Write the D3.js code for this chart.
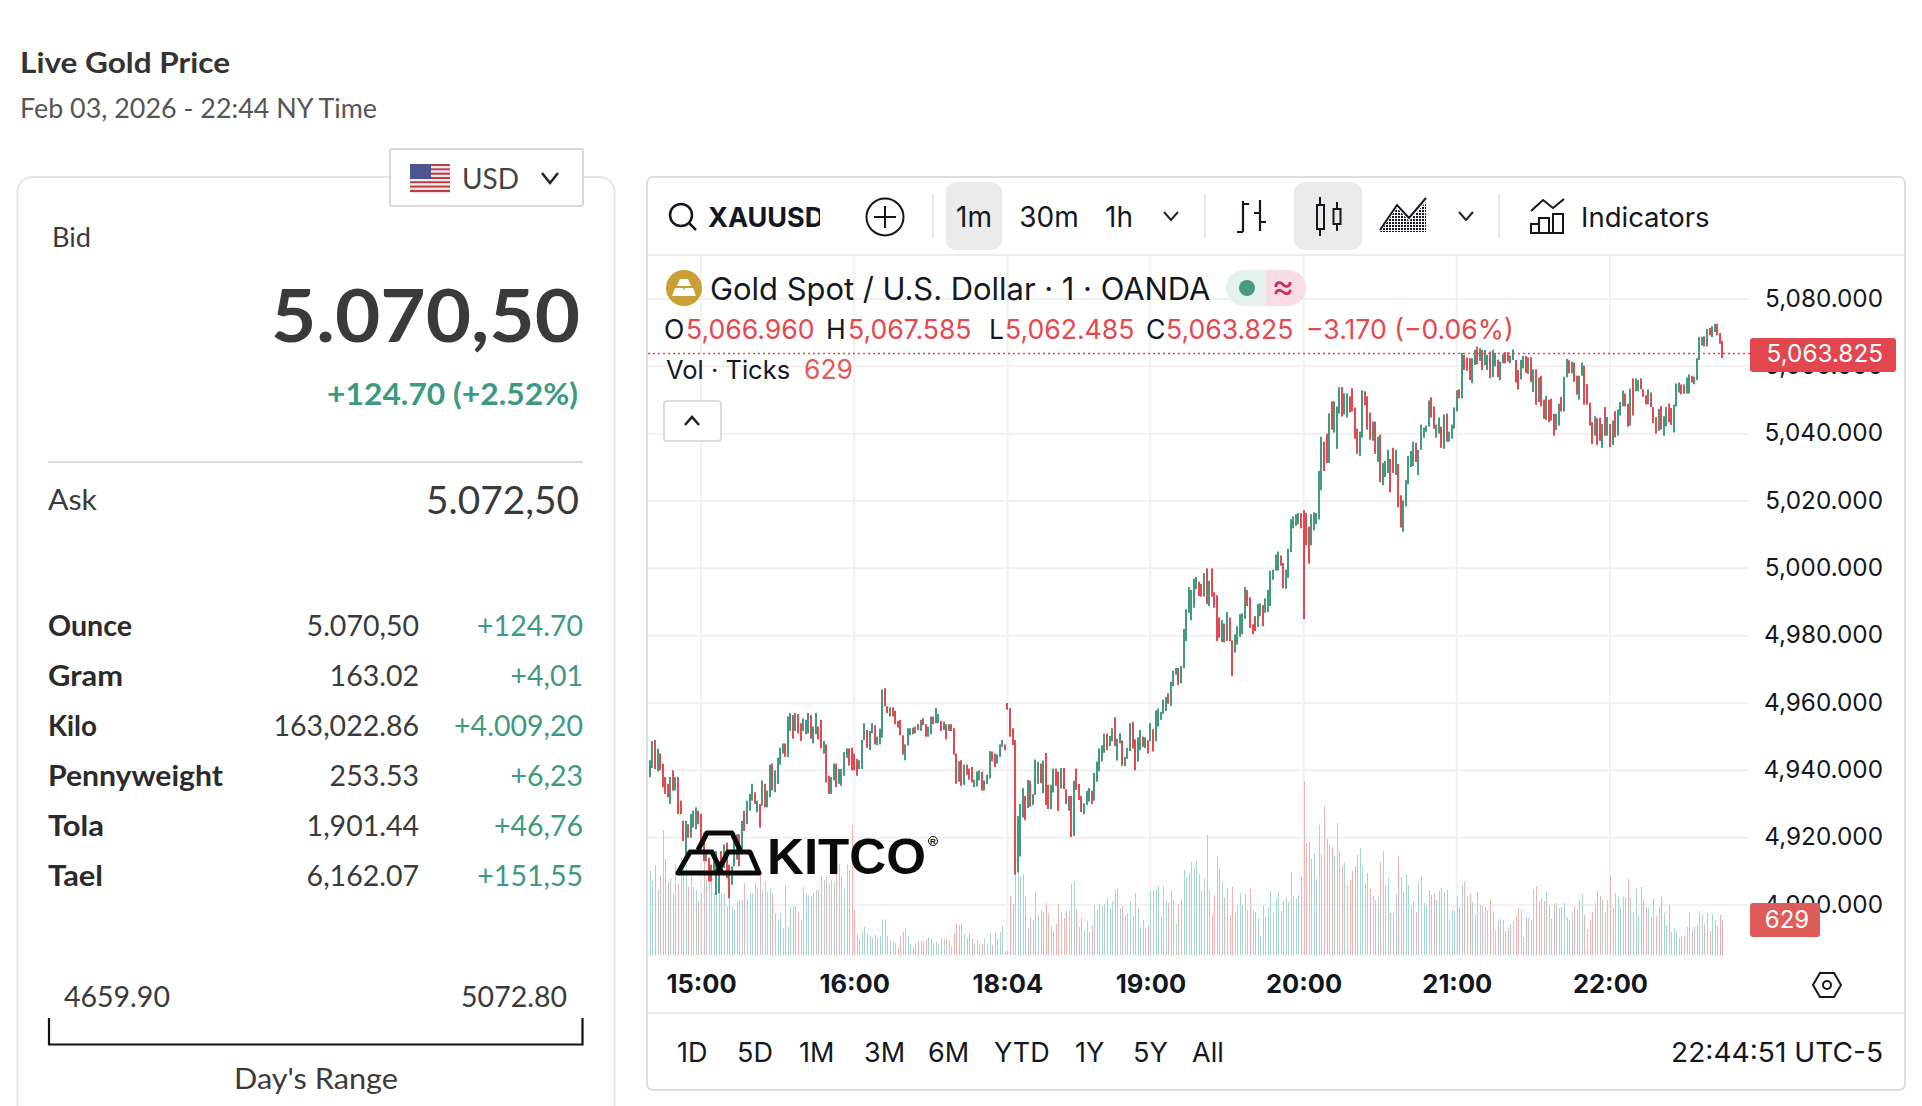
<!DOCTYPE html>
<html>
<head>
<meta charset="utf-8">
<title>Live Gold Price</title>
<script src="https://cdn.jsdelivr.net/npm/d3@7"></script>
<style>
  html, body { margin: 0; padding: 0; background: #fff; overflow: hidden; }
  svg { display: block; }
  .panel text { font-family: Lato, "Noto Sans", sans-serif; }
  .terminal text { font-family: Inter, "Noto Sans", sans-serif; }
</style>
</head>
<body>
<svg id="page" width="1922" height="1106"></svg>
<script>
// bar highs, one row per 10 minutes
const highs = [
  4943,4948.7,4949,4946.5,4945,4942,4938,4936,4938,4940,
  4938,4938,4931,4925,4925,4924,4927,4928,4929,4928,
  4927,4921.5,4916,4914,4912,4913,4916,4913,4916,4918,
  4918.5,4912,4911.5,4921,4921,4921,4925,4928,4931,4933,
  4936,4933.5,4931,4930,4937,4936,4934,4941.7,4942,4940,
  4943.7,4946.7,4948,4948,4956,4957,4956.4,4957,4956.7,4954,
  4955.4,4955,4957,4956.4,4953,4957,4953,4955,4948.7,4947.7,
  4938.4,4938,4942,4942,4940.4,4940.4,4945.4,4946.5,4946.5,4946.7,
  4945,4943.4,4943,4949,4954,4952,4951.7,4954,4953.4,4950,
  4952.4,4964,4964.4,4959,4958.7,4958.7,4957.7,4954.7,4955,4950.4,
  4947.7,4952.5,4952.5,4952.7,4953,4953.7,4955,4955.5,4953.7,4953,
  4956,4956,4958.5,4956.7,4954.7,4954.5,4953.7,4953.7,4953.7,4952.5,
  4945,4942.7,4943,4941.7,4941.7,4940.5,4941,4937.2,4939.7,4940,
  4939.6,4937,4938.7,4945.7,4945.6,4945,4944.7,4947.7,4949,4947.7,
  4960,4958.5,4952.5,4949,4926.4,4930,4934.7,4932.4,4937.2,4936.9,
  4932.9,4943.2,4942.5,4942,4942.9,4945.2,4935.7,4935.7,4940.5,4940.5,
  4939.6,4940.7,4940.7,4934.4,4932.4,4932.4,4936.9,4940.5,4936,4932.4,
  4930.2,4933.9,4934.7,4933.9,4939.2,4942.6,4946.5,4947.4,4950.9,4950.9,
  4950.2,4952.5,4955.7,4949.4,4951,4948.9,4944,4946.7,4954,4954.4,
  4949.2,4949.8,4952,4950,4949.8,4948.9,4954,4952.2,4957.8,4958.4,
  4957.3,4961,4961.8,4962.9,4966.3,4969.6,4970.4,4970.4,4971,4982,
  4987.8,4994.4,4993.6,4996.9,4997.5,4996,4995.4,4998.6,5000,4996.3,
  5000,4992.9,4992,4985.4,4984.6,4983.6,4987,4985.4,4978.6,4980.4,
  4982.8,4986.4,4986.6,4994.4,4993.6,4991.4,4983.4,4985.8,4989.4,4989.6,
  4989.1,4991.1,4993.6,4999.3,4999.6,5004.1,5005,5003.8,5001.6,4999.6,
  5005.8,5014.6,5015.4,5016.1,5016.4,5016.4,5017.3,5016.4,5012.4,5016.1,
  5016.6,5016.4,5028.9,5039.1,5037.6,5040,5046,5049.6,5049.6,5048.1,
  5053.8,5053.8,5052,5052,5051.1,5053.5,5047.8,5041.5,5040.6,5052.9,
  5052.6,5051.1,5046.3,5043.6,5043.6,5039.1,5039.7,5031.3,5031.9,5035.2,
  5032.5,5035.8,5035.2,5031,5021.7,5020.2,5026.2,5033.4,5034.9,5037.6,
  5037.3,5035.2,5042.7,5041.8,5042.4,5049.9,5050.8,5048.1,5042.7,5044.8,
  5042.1,5045.7,5046,5040.6,5042.7,5047.8,5052.9,5053.2,5064,5063.4,
  5062.6,5062.4,5062.4,5064.9,5065.9,5065.4,5064.9,5064.9,5063.4,5064.4,
  5064.9,5064,5062,5061.4,5063.6,5064.2,5064.2,5063.2,5065,5061.9,
  5058.9,5061.9,5063.1,5063.1,5062.7,5062.7,5059.1,5059.1,5056.7,5057.2,
  5050.1,5051.2,5050.1,5050.4,5045.9,5045.9,5048.9,5050.9,5056.9,5062.2,
  5061.8,5061.4,5061.1,5057.2,5057.2,5061.1,5060.2,5054.7,5049.2,5043.4,
  5045.2,5044.6,5044.7,5042.9,5047.9,5045,5042.9,5043.9,5046.7,5047.2,
  5049.4,5052.8,5051.9,5048.9,5053.4,5056.4,5056.4,5055.9,5056.4,5053.2,
  5051.4,5053.1,5052.2,5047.9,5044.9,5047.4,5048.2,5045.2,5047.9,5048.9,
  5047.6,5048.6,5054.9,5055.2,5054.6,5054.6,5056.7,5057.6,5057.2,5056.9,
  5062.4,5068.7,5068.7,5068.9,5071.1,5071.4,5071.9,5072.6,5072.6,5069.9,5067.585
];
const lows = [
  4938,4940.7,4940.4,4939.7,4940,4935,4933,4932,4930,4934,
  4934,4927,4927,4919,4915,4920,4920,4923,4922.5,4924,
  4919,4913,4913,4907,4907,4909,4903,4903.5,4909,4911,
  4908,4902,4906,4911.5,4913.5,4911.5,4916,4922,4924,4928,
  4931,4930,4927.5,4923,4929.5,4929,4929,4932,4934,4933.5,
  4936,4941.7,4945,4944,4944,4951.7,4949.4,4951.7,4951,4948.7,
  4951.7,4950.7,4951,4949.4,4948,4950.7,4949.2,4946.5,4945,4936.4,
  4933,4933,4937,4935,4936,4935.4,4938.4,4943.7,4941.4,4940,
  4940,4938.4,4940.4,4940.4,4949,4946.7,4946,4951,4947.7,4947.5,
  4947.7,4949.7,4959,4957,4956,4956,4953.7,4952.7,4950.4,4944.7,
  4943,4947.4,4950.4,4950.7,4951,4952,4951.7,4953.4,4950,4950,
  4950.7,4953.7,4954,4954,4951.7,4952,4949.2,4951.7,4951.7,4944.7,
  4936,4936.6,4935.4,4935.7,4938.7,4937.2,4936.4,4935,4935.2,4937,
  4934,4934,4936,4937.6,4942.7,4941,4942,4944,4947,4946,
  4958,4950,4947.5,4909,4909.7,4914.4,4926,4925.2,4928.8,4929.2,
  4929.7,4932.7,4936,4936.2,4933.2,4929.7,4928.5,4928.5,4933.4,4935.4,
  4927.9,4934.6,4934.4,4930,4928,4920.2,4920.5,4934.2,4931.2,4927.6,
  4927,4929.7,4930.7,4930,4931,4936.6,4939.7,4942.7,4945.2,4946,
  4947.2,4948.6,4947.2,4942.9,4948,4941.4,4941.2,4943.4,4945.7,4946.5,
  4940,4942.6,4946,4947,4946.6,4945,4948.6,4945.6,4948.6,4953,
  4955,4956.8,4957.6,4959.8,4959.1,4965,4968.4,4965.4,4965.8,4970.3,
  4978.4,4986.8,4984.6,4988.3,4993.8,4991.8,4991.6,4991.6,4989.4,4988.8,
  4991.6,4988.3,4978.4,4979.4,4978.1,4978,4978.4,4978.4,4968,4975,
  4977.4,4979.6,4980.4,4985,4988.8,4982.3,4980.4,4981.4,4982.6,4985.8,
  4982.8,4986.8,4987,4988.8,4996.6,4999.3,4999.4,5000.8,4994.1,4993.9,
  4997.2,5004.8,5011.9,5012.6,5013.1,5011.9,4984.9,5006.8,5001.4,5006.8,
  5011.3,5013.1,5014.5,5023.2,5028.9,5031.3,5031.3,5041.2,5040.3,5035.5,
  5046,5045.1,5045.7,5044.8,5046.3,5046.6,5038.5,5034,5033.4,5038.8,
  5048.4,5041.2,5038.2,5037.9,5034,5031.6,5025.6,5024.7,5027.1,5028.3,
  5022.6,5028.3,5027.7,5018.1,5012.1,5010.9,5018.4,5025,5030.1,5030.4,
  5031.6,5027.7,5035.2,5038.8,5040.6,5042.1,5044.8,5041.5,5038.8,5040,
  5035.8,5035.5,5037.6,5037.6,5038.5,5041.5,5046.6,5050.5,5050.5,5058.9,
  5058.7,5055.9,5055,5060.4,5060.6,5061.6,5058.9,5060.4,5058.9,5056.5,
  5056.8,5060,5056.8,5055.9,5060.9,5060.9,5061.4,5060.9,5061.9,5055.2,
  5053.1,5056.1,5059.4,5058.1,5057.7,5055.4,5052.4,5048.6,5049.4,5048.1,
  5044.4,5044.1,5043.4,5043.9,5039.4,5041.1,5042.4,5046.6,5046.6,5056.7,
  5057.9,5057.9,5055.4,5051.6,5050.1,5057.2,5048.6,5048.6,5042.4,5036.9,
  5039.4,5036.6,5037.9,5035.8,5039.4,5039.4,5036,5036.6,5038.9,5039.4,
  5045.4,5048.1,5048.1,5042.1,5042.4,5045.4,5052.6,5052.6,5053.2,5050.9,
  5048.7,5048.7,5047.9,5043.1,5040,5040.9,5041.2,5039.4,5042.2,5043.4,
  5042.6,5040.4,5048.1,5052.2,5051.7,5051.9,5051.9,5051.9,5055.2,5054.7,
  5055.9,5061.9,5066.2,5065.9,5065.9,5069.2,5068.7,5070.2,5069.2,5066.7,5062.485
];
// 1 closes up, 0 closes down
const ups = [
  1,1,0,1,0,0,0,0,1,0, 1,0,0,0,1,0,1,1,1,0, 0,0,1,0,0,1,1,1,0,1, 0,0,1,1,1,0,1,0,1,1,
  1,0,1,0,1,0,1,1,0,1, 1,1,1,0,1,1,0,1,0,0, 1,1,1,0,1,1,0,0,1,0, 0,1,1,0,1,1,1,1,0,0,
  0,0,1,1,1,0,1,1,0,1, 1,1,0,0,1,0,0,0,0,0, 1,1,1,0,1,0,1,0,0,1, 1,0,1,1,0,1,0,1,0,0,
  0,1,0,1,0,0,0,1,1,1, 0,1,1,1,0,0,1,1,1,0, 0,0,0,0,1,1,1,0,1,0, 1,1,1,0,1,0,0,1,1,0,
  0,1,0,0,1,0,1,0,0,0, 1,1,1,0,1,1,1,1,1,0, 1,1,0,1,1,0,1,1,1,0, 0,1,1,0,1,0,1,0,1,1,
  1,1,1,0,1,1,1,0,1,1, 1,1,1,1,1,0,0,1,0,1, 0,0,0,0,1,0,1,0,0,1, 1,1,1,1,0,0,0,0,1,1,
  0,1,1,1,1,1,1,0,0,1, 1,1,1,1,1,0,0,0,0,1, 1,1,1,1,0,0,1,0,1,1, 1,0,1,1,0,0,0,0,1,1,
  0,0,0,1,0,1,0,1,1,1, 0,0,1,0,0,1,1,1,1,1, 0,1,1,1,1,1,0,0,1,1, 0,1,0,1,1,1,1,0,1,0,
  0,0,1,1,0,1,0,1,1,0, 1,1,0,1,1,0,0,1,1,0, 0,1,1,0,1,0,1,0,1,0, 0,1,0,0,0,1,1,0,1,1,
  0,1,0,0,1,1,0,0,0,0, 1,0,0,1,0,1,0,1,0,1, 1,1,0,0,1,0,1,1,0,0, 0,1,0,0,0,1,0,1,1,0,
  0,1,1,1,0,0,1,1,0,1, 1,1,1,0,1,0,1,1,0,0,0
];
// ticks per bar
const volumes = [
  1512,1332,1620,1170,1428,2250,1728,1320,1380,1110,
  1632,1278,1752,1590,1632,1230,1410,1218,1170,960,
  1110,1680,1350,1620,1332,1110,1110,1320,1110,1110,
  870,1470,858,810,960,978,990,1290,990,1110,
  1110,1302,1200,1458,1170,1320,1140,1200,1110,750,
  630,750,480,1260,510,870,882,870,780,630,
  1230,1110,1080,1050,1110,1170,1170,1422,1350,1410,
  1290,1350,1320,1620,1638,1410,1218,1620,1530,2340,
  810,360,300,420,510,390,330,300,360,300,
  348,648,630,342,270,240,210,138,330,420,
  468,330,198,150,198,240,258,240,270,318,
  300,210,240,180,300,282,300,270,150,390,
  558,540,570,378,300,390,300,210,270,192,
  198,300,198,390,180,402,300,414,528,60,
  78,1062,918,1470,1518,1404,1458,1044,492,684,
  630,1152,720,810,774,936,738,522,432,558,
  918,774,666,792,810,1278,1332,828,504,666,
  450,612,414,540,900,810,918,882,918,1026,
  846,972,1170,1206,846,882,720,756,972,702,
  1116,828,504,630,498,540,1152,1170,1188,1242,
  702,1242,990,936,1170,990,558,918,1008,1530,
  1422,1476,1674,1584,1692,1458,1152,1368,2160,1170,
  738,1062,1764,1548,1314,1026,1206,720,1224,756,
  900,1116,900,1098,810,1188,810,774,666,342,
  882,684,864,1152,756,1026,1152,792,972,1044,
  954,1494,1062,1008,1080,1404,3132,2016,2034,1728,
  1836,1368,2340,1818,2682,2088,1998,1944,1782,2376,
  1872,1602,1656,1260,1350,1512,1602,1800,1926,1602,
  1296,1476,1188,1062,990,1044,1674,1872,1260,1386,
  756,756,1098,1782,1404,1134,1458,1260,882,972,
  774,1314,1404,936,900,1170,1080,1116,990,1152,
  1206,1134,1170,648,810,792,1062,846,1260,1314,
  1062,1116,954,738,1134,900,882,864,810,1008,
  792,450,612,648,630,432,486,558,612,702,
  846,810,324,684,666,630,1188,1242,972,1008,
  972,1134,900,648,918,936,846,864,936,684,
  630,756,882,810,1008,1098,720,468,630,774,
  936,1170,1062,1008,774,990,1422,846,1116,1062,
  882,1044,1044,1368,1044,774,1188,720,1224,990,
  864,846,684,1026,702,864,1044,756,540,900,
  414,486,432,306,342,342,504,756,450,504,
  540,792,738,558,756,432,738,630,522,720,629
];

const priceTicks = [5080, 5060, 5040, 5020, 5000, 4980, 4960, 4940, 4920, 4900];
const timeTickBars = [20, 80, 140, 196, 256, 316, 376];
const timeTickLabels = ["15:00", "16:00", "18:04", "19:00", "20:00", "21:00", "22:00"];
const lastClose = 5063.825;
const lastVolume = 629;

const units = ["Ounce", "Gram", "Kilo", "Pennyweight", "Tola", "Tael"];
const unitWidths = [84, 75, 49, 175, 56, 55];
const unitPrices = ["5.070,50", "163.02", "163,022.86", "253.53", "1,901.44", "6,162.07"];
const unitChanges = ["+124.70", "+4,01", "+4.009,20", "+6,23", "+46,76", "+151,55"];
const periods = [["1D", 677], ["5D", 737], ["1M", 799], ["3M", 864], ["6M", 928], ["YTD", 994], ["1Y", 1075], ["5Y", 1133], ["All", 1192]];

const GREEN = "#429a83", RED = "#e5484f", INK = "#131722", TEXT = "#3a3a3a";

const svg = d3.select("#page");

// small helper for all the plain labels, len stretches Lato out to the wider original face
function label(g, x, y, str, size, opts = {}) {
  const t = g.append("text")
    .attr("x", x).attr("y", y)
    .attr("font-size", size)
    .attr("font-weight", opts.weight || 400)
    .attr("text-anchor", opts.anchor || "start")
    .attr("fill", opts.fill || TEXT)
    .text(str);
  if (opts.len) t.attr("textLength", opts.len).attr("lengthAdjust", "spacingAndGlyphs");
  return t;
}

function chevron(g, x, y, w, h, width = 2) {
  g.append("path")
    .attr("d", `M${x - w},${y - h} L${x},${y + h} L${x + w},${y - h}`)
    .attr("fill", "none").attr("stroke", "#222").attr("stroke-width", width);
}

// ---------- left panel ----------
const panel = svg.append("g").attr("class", "panel");
label(panel, 20, 73, "Live Gold Price", 29, { weight: 700, fill: "#333", len: 210 });
label(panel, 20, 118, "Feb 03, 2026 - 22:44 NY Time", 26, { fill: "#555", len: 357 });

panel.append("rect").attr("x", 17.5).attr("y", 177).attr("width", 597).attr("height", 1000)
  .attr("rx", 15).attr("fill", "#fff").attr("stroke", "#e6e6e6").attr("stroke-width", 2);

// currency picker
panel.append("rect").attr("x", 390).attr("y", 149).attr("width", 193).attr("height", 57)
  .attr("rx", 2).attr("fill", "#fff").attr("stroke", "#d9d9d9").attr("stroke-width", 2);
const flag = panel.append("g");
d3.range(13).forEach(k => {
  flag.append("rect").attr("x", 410).attr("y", 164 + k * 28 / 13).attr("width", 40).attr("height", 28 / 13 + 0.2)
    .attr("fill", k % 2 ? "#f1eef0" : "#bd3d44");
});
flag.append("rect").attr("x", 410).attr("y", 164).attr("width", 21).attr("height", 15).attr("fill", "#4c5590");
label(panel, 462, 189, "USD", 28, { fill: "#444" });
chevron(panel, 550, 178, 8, 5, 2.5);

label(panel, 52, 247, "Bid", 26, { len: 39 });
label(panel, 580, 342, "5.070,50", 73, { weight: 700, anchor: "end", len: 309 });
label(panel, 578, 405, "+124.70 (+2.52%)", 30, { weight: 700, anchor: "end", fill: "#3d9a80", len: 251 });
panel.append("line").attr("x1", 48).attr("x2", 583).attr("y1", 462).attr("y2", 462)
  .attr("stroke", "#dcdcdc").attr("stroke-width", 2);
label(panel, 48, 510, "Ask", 28, { len: 49 });
label(panel, 579, 514, "5.072,50", 38.5, { anchor: "end", len: 153 });

units.forEach((u, k) => {
  const y = 636 + k * 50;
  label(panel, 48, y, u, 28.5, { weight: 700, fill: "#2b2b2b", len: unitWidths[k] });
  label(panel, 419, y, unitPrices[k], 28.5, { anchor: "end" });
  label(panel, 583, y, unitChanges[k], 28.5, { anchor: "end", fill: "#3d9a80" });
});

label(panel, 64, 1007, "4659.90", 28.5);
label(panel, 567, 1007, "5072.80", 28.5, { anchor: "end" });
panel.append("path").attr("d", "M49,1018 V1044.5 H582.5 V1018")
  .attr("fill", "none").attr("stroke", "#111").attr("stroke-width", 2.2);
label(panel, 316, 1089, "Day's Range", 28, { anchor: "middle", len: 164 });

// ---------- chart card ----------
const term = svg.append("g").attr("class", "terminal");
term.append("rect").attr("x", 647).attr("y", 177).attr("width", 1258).attr("height", 913)
  .attr("rx", 6).attr("fill", "#fff").attr("stroke", "#dedede").attr("stroke-width", 2);
term.append("line").attr("x1", 648).attr("x2", 1904).attr("y1", 255).attr("y2", 255).attr("stroke", "#ececec").attr("stroke-width", 2);
term.append("line").attr("x1", 648).attr("x2", 1904).attr("y1", 1013).attr("y2", 1013).attr("stroke", "#ececec").attr("stroke-width", 2);

// scales
const x = d3.scaleLinear().domain([20, 376]).range([701, 1610]);
const y = d3.scaleLinear().domain([4900, 5080]).range([905, 299]);
const volY = d3.scaleLinear().domain([0, 3132]).range([955, 781]);

// grid
const grid = term.append("g").attr("stroke", "#f1f1f1").attr("stroke-width", 2);
grid.selectAll(".h").data(priceTicks).enter().append("line")
  .attr("x1", 648).attr("x2", 1748).attr("y1", d => y(d)).attr("y2", d => y(d));
grid.selectAll(".v").data(timeTickBars).enter().append("line")
  .attr("y1", 256).attr("y2", 955).attr("x1", d => x(d)).attr("x2", d => x(d));

// volume bars
term.append("g").selectAll("rect").data(volumes).enter().append("rect")
  .attr("x", (d, i) => Math.round(x(i)))
  .attr("width", 1)
  .attr("y", d => volY(d))
  .attr("height", d => 955 - volY(d))
  .attr("fill", (d, i) => ups[i] ? "#a6d8cf" : "#f2b2b0");

// candles, wick and body are about the same width at this zoom
term.append("g").selectAll("rect").data(highs).enter().append("rect")
  .attr("x", (d, i) => Math.round(x(i)) - 1)
  .attr("width", 2)
  .attr("y", d => y(d))
  .attr("height", (d, i) => y(lows[i]) - y(d))
  .attr("fill", (d, i) => ups[i] ? GREEN : RED);

// last price line
term.append("line").attr("x1", 648).attr("x2", 1750).attr("y1", y(lastClose)).attr("y2", y(lastClose))
  .attr("stroke", RED).attr("stroke-width", 1.5).attr("stroke-dasharray", "2 3");

// axes
const yAxis = d3.axisLeft(y).tickValues(priceTicks).tickSize(0).tickPadding(0).tickFormat(d => d3.format(",.3f")(d));
const yG = term.append("g").attr("transform", "translate(1883,0)").call(yAxis);
yG.select(".domain").remove();
yG.selectAll("text").attr("font-size", 24.3).attr("fill", INK).attr("font-family", "Inter").attr("dy", "0.3em");

const xAxis = d3.axisBottom(x).tickValues(timeTickBars).tickSize(0).tickPadding(0).tickFormat((d, i) => timeTickLabels[i]);
const xG = term.append("g").attr("transform", "translate(0,976)").call(xAxis);
xG.select(".domain").remove();
xG.selectAll("text").attr("font-size", 25.5).attr("font-weight", 700).attr("fill", INK).attr("font-family", "Inter").attr("dy", "0.68em");

// price and volume tags
term.append("rect").attr("x", 1750).attr("y", 338).attr("width", 146).attr("height", 34).attr("rx", 3).attr("fill", "#e2474f");
label(term, 1883, y(lastClose) + 8.5, d3.format(",.3f")(lastClose), 24.3, { anchor: "end", fill: "#fff" });
term.append("rect").attr("x", 1750).attr("y", 903).attr("width", 70).attr("height", 34).attr("rx", 3).attr("fill", "#de5d5a");
label(term, 1787, 928, lastVolume, 24, { anchor: "middle", fill: "#fff" });

// ---------- toolbar ----------
term.append("circle").attr("cx", 681).attr("cy", 215).attr("r", 11).attr("fill", "none").attr("stroke", INK).attr("stroke-width", 2.5);
term.append("line").attr("x1", 689).attr("y1", 223).attr("x2", 696).attr("y2", 230).attr("stroke", INK).attr("stroke-width", 2.5);
term.append("clipPath").attr("id", "symClip").append("rect").attr("x", 700).attr("y", 190).attr("width", 120).attr("height", 50);
label(term, 708, 227, "XAUUSD", 27, { weight: 700, fill: INK }).attr("clip-path", "url(#symClip)");

term.append("circle").attr("cx", 885).attr("cy", 217).attr("r", 18.5).attr("fill", "none").attr("stroke", INK).attr("stroke-width", 2);
term.append("path").attr("d", "M885,206 V228 M874,217 H896").attr("stroke", INK).attr("stroke-width", 2);

[933, 1205, 1499].forEach(px => {
  term.append("line").attr("x1", px).attr("x2", px).attr("y1", 194).attr("y2", 238).attr("stroke", "#e8e8e8").attr("stroke-width", 2);
});

term.append("rect").attr("x", 946).attr("y", 182).attr("width", 56).attr("height", 68).attr("rx", 10).attr("fill", "#ebebeb");
label(term, 974, 227, "1m", 28, { anchor: "middle", fill: INK });
label(term, 1049, 227, "30m", 28, { anchor: "middle", fill: INK });
label(term, 1119, 227, "1h", 28, { anchor: "middle", fill: INK });
chevron(term, 1171, 216, 7, 4);

// bar style icon
term.append("path").attr("d", "M1243,201 V232 M1243,232 H1237 M1243,204 H1249 M1260,200 V231 M1260,213 H1254 M1260,222 H1266")
  .attr("fill", "none").attr("stroke", INK).attr("stroke-width", 2.2);

// candle style icon
term.append("rect").attr("x", 1294).attr("y", 182).attr("width", 68).attr("height", 68).attr("rx", 10).attr("fill", "#ebebeb");
term.append("path").attr("d", "M1320,197 V205 M1320,229 V236 M1337,202 V209 M1337,224 V231")
  .attr("stroke", INK).attr("stroke-width", 2);
term.append("rect").attr("x", 1317).attr("y", 205).attr("width", 7).attr("height", 24).attr("fill", "none").attr("stroke", INK).attr("stroke-width", 2);
term.append("rect").attr("x", 1333.5).attr("y", 209).attr("width", 7).attr("height", 15).attr("fill", "none").attr("stroke", INK).attr("stroke-width", 2);

// area style icon
const hatch = svg.append("defs").append("pattern").attr("id", "hatch").attr("width", 3).attr("height", 3).attr("patternUnits", "userSpaceOnUse");
hatch.append("rect").attr("width", 2).attr("height", 2).attr("fill", INK);
term.append("path").attr("d", "M1380,232 L1397,208 L1409,221 L1426,202 V232 Z").attr("fill", "url(#hatch)");
term.append("path").attr("d", "M1380,230 L1397,205 L1409,218 L1426,198").attr("fill", "none").attr("stroke", INK).attr("stroke-width", 2);
chevron(term, 1466, 216, 7, 4);

// indicators icon
term.append("path").attr("d", "M1531,211 L1543,200 L1553,208 L1564,199").attr("fill", "none").attr("stroke", INK).attr("stroke-width", 2);
term.append("path").attr("d", "M1531,233 V224 H1539 V233 M1539,233 V218 H1549 V233 M1553,233 V214 H1563 V233 M1530,233 H1564")
  .attr("fill", "none").attr("stroke", INK).attr("stroke-width", 2);
label(term, 1581, 227, "Indicators", 27.5, { fill: INK });

// ---------- legend ----------
term.append("circle").attr("cx", 684).attr("cy", 288).attr("r", 18).attr("fill", "#c99f36");
term.append("path").attr("d", "M680,279 H688 L691,286 H677 Z M672,296 L675,288 H683 L686,296 Z M682,296 L685,288 H693 L696,296 Z").attr("fill", "#fff");
label(term, 710, 300, "Gold Spot / U.S. Dollar · 1 · OANDA", 30.9, { fill: INK });

term.append("path").attr("d", "M1266,270 H1244 A18,18 0 0 0 1244,306 H1266 Z").attr("fill", "#e4f1ee");
term.append("path").attr("d", "M1266,270 H1288 A18,18 0 0 1 1288,306 H1266 Z").attr("fill", "#f8dde4");
term.append("circle").attr("cx", 1247).attr("cy", 288).attr("r", 8).attr("fill", "#4a9a83");
label(term, 1283, 298, "≈", 34, { anchor: "middle", weight: 400, fill: "#c9305f" });

const ohlcLine = [["O", 664, INK], ["5,066.960", 686, RED], ["H", 826, INK], ["5,067.585", 848, RED], ["L", 989, INK], ["5,062.485", 1005, RED], ["C", 1146, INK], ["5,063.825", 1166, RED], ["−3.170 (−0.06%)", 1306, RED]];
ohlcLine.forEach(d => label(term, d[1], 339, d[0], 26.6, { fill: d[2] }));
label(term, 666, 379, "Vol · Ticks", 25.5, { fill: INK });
label(term, 804, 379, lastVolume, 26.5, { fill: "#e05a5a" });

term.append("rect").attr("x", 664).attr("y", 401).attr("width", 57).attr("height", 40).attr("rx", 3).attr("fill", "#fff").attr("stroke", "#dcdcdc").attr("stroke-width", 2);
chevron(term, 692, 421, 7, -4, 2.5);

// ---------- kitco logo ----------
const logo = svg.append("g");
logo.append("path").attr("d", "M698,850 L707,833 H732 L740,850 M678,873 L690,852 H712 L722,873 Z M717,873 L728,852 H750 L759,873 Z")
  .attr("fill", "none").attr("stroke", "#0a0a0a").attr("stroke-width", 5).attr("stroke-linejoin", "round");
logo.append("text").attr("x", 767).attr("y", 874).attr("font-family", "Liberation Sans").attr("font-weight", 700)
  .attr("font-size", 50).attr("textLength", 159).attr("lengthAdjust", "spacingAndGlyphs").attr("fill", "#0a0a0a").text("KITCO");
logo.append("circle").attr("cx", 933).attr("cy", 841).attr("r", 4.5).attr("fill", "none").attr("stroke", "#0a0a0a").attr("stroke-width", 1);
logo.append("text").attr("x", 933).attr("y", 844).attr("font-family", "Liberation Sans").attr("font-size", 8).attr("font-weight", 700)
  .attr("text-anchor", "middle").attr("fill", "#0a0a0a").text("R");

// ---------- bottom row ----------
periods.forEach(p => label(term, p[1], 1062, p[0], 27, { fill: INK }));
label(term, 1883, 1062, "22:44:51 UTC-5", 27.5, { anchor: "end", fill: INK, len: 212 });
term.append("path").attr("d", "M1813,985 L1820,973 H1834 L1841,985 L1834,997 H1820 Z").attr("fill", "none").attr("stroke", INK).attr("stroke-width", 2);
term.append("circle").attr("cx", 1827).attr("cy", 985).attr("r", 4).attr("fill", "none").attr("stroke", INK).attr("stroke-width", 2);
</script>
</body>
</html>
